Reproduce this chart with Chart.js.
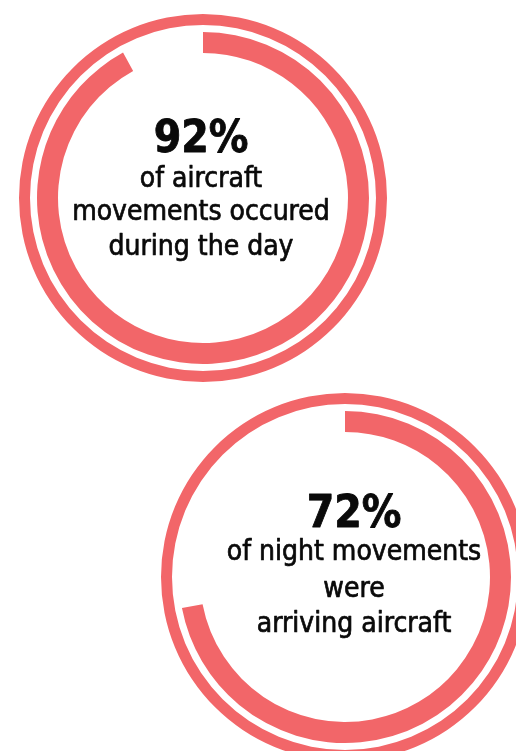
<!DOCTYPE html>
<html>
<head>
<meta charset="utf-8">
<script src="https://cdn.jsdelivr.net/npm/chart.js@4.4.1/dist/chart.umd.min.js"></script>
<style>
  html, body { margin: 0; padding: 0; background: #ffffff; width: 516px; height: 751px; overflow: hidden; }
  .ring { position: absolute; }
</style>
</head>
<body>
<canvas id="dayRing" class="ring" width="368" height="368" style="left:19px; top:14px;"></canvas>
<canvas id="nightRing" class="ring" width="368" height="368" style="left:161px; top:393px;"></canvas>
<script>
// Share of movements (percent) shown by each ring
const ringIds = ['dayRing', 'nightRing'];
const shareValues = [92, 72];
const captionLines = [
  ['of aircraft', 'movements occured', 'during the day'],
  ['of night movements', 'were', 'arriving aircraft']
];

// Look and layout
const accent = '#f26669';
const textColor = '#0a0a0a';
const textFont = '"DejaVu Sans Condensed", "DejaVu Sans", sans-serif';
const textLayout = [
  { dx: -2, headline: -46, lines: [-11, 22, 57] },
  { dx: 9, headline: -50, lines: [-17, 20, 55] }
];

const centerText = {
  id: 'centerText',
  afterDraw(chart, args, opts) {
    const meta = chart.getDatasetMeta(2);
    const arc = meta.data[0];
    const cx = arc.x + opts.layout.dx;
    const cy = arc.y;
    const ctx = chart.ctx;
    ctx.save();
    ctx.fillStyle = textColor;
    ctx.strokeStyle = textColor;
    ctx.lineJoin = 'round';
    ctx.textAlign = 'center';
    ctx.textBaseline = 'alphabetic';
    ctx.font = 'bold 44px ' + textFont;
    ctx.lineWidth = 0.8;
    ctx.fillText(opts.value + '%', cx, cy + opts.layout.headline);
    ctx.strokeText(opts.value + '%', cx, cy + opts.layout.headline);
    ctx.font = '28px ' + textFont;
    ctx.lineWidth = 0.7;
    opts.lines.forEach((line, i) => {
      ctx.fillText(line, cx, cy + opts.layout.lines[i]);
      ctx.strokeText(line, cx, cy + opts.layout.lines[i]);
    });
    ctx.restore();
  }
};

ringIds.forEach((id, k) => {
  const value = shareValues[k];
  new Chart(document.getElementById(id), {
    type: 'doughnut',
    data: {
      labels: ['share', 'rest'],
      datasets: [
        // thin full outer ring
        { data: [100, 0], backgroundColor: [accent, 'rgba(0,0,0,0)'], borderWidth: 0, weight: 11 },
        // white gap between the rings
        { data: [100, 0], backgroundColor: ['rgba(0,0,0,0)', 'rgba(0,0,0,0)'], borderWidth: 0, weight: 7 },
        // thick progress arc
        { data: [value, 100 - value], backgroundColor: [accent, 'rgba(0,0,0,0)'], borderWidth: 0, weight: 21 }
      ]
    },
    options: {
      responsive: false,
      devicePixelRatio: 1,
      animation: false,
      cutout: '78.8%',
      layout: { padding: 0 },
      events: [],
      plugins: {
        legend: { display: false },
        tooltip: { enabled: false },
        centerText: { value: value, lines: captionLines[k], layout: textLayout[k] }
      }
    },
    plugins: [centerText]
  });
});
</script>
</body>
</html>
